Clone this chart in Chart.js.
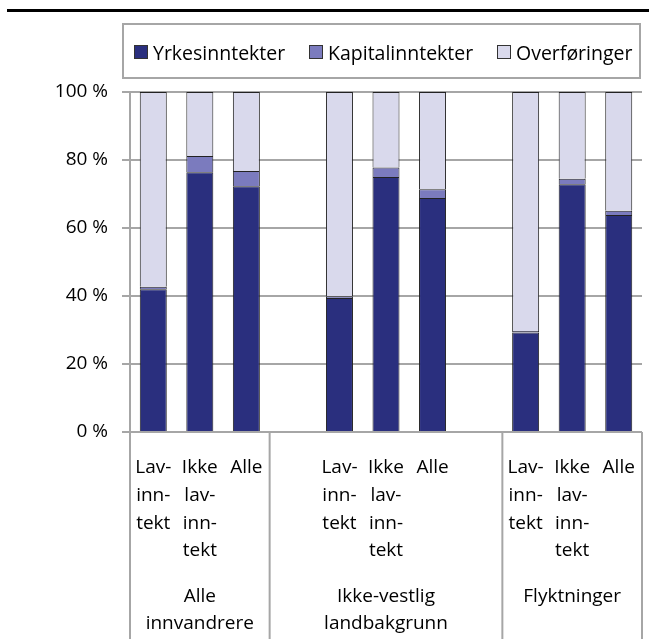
<!DOCTYPE html>
<html><head><meta charset="utf-8">
<script src="https://cdn.jsdelivr.net/npm/chart.js@4/dist/chart.umd.min.js"></script>
<style>
html,body{margin:0;padding:0;background:#fff;}
body{width:649px;height:639px;position:relative;overflow:hidden;font-family:"Open Sans",sans-serif;}
#rule{position:absolute;left:7px;top:9px;width:642px;height:3px;background:#000;}
#legend{position:absolute;left:122px;top:23px;width:515px;height:52px;border:2px solid #a6a6a6;font-size:19.5px;color:#000;}
.item{display:flex;align-items:center;position:absolute;top:1px;height:52px;white-space:nowrap;}
.sw{width:14px;height:14px;border:1px solid #333;margin-right:5px;box-sizing:border-box;}
#c{position:absolute;left:0;top:0;}
</style></head>
<body>
<div id="rule"></div>
<canvas id="c" width="649" height="639"></canvas>
<div id="legend"></div>
<script>
const seriesNames = ["Yrkesinntekter", "Kapitalinntekter", "Overføringer"];
const seriesColors = ["#2a2f7e", "#7b7bbe", "#d9d9ec"];
const categories = [
  ["Lav-","inn-","tekt"], ["Ikke","lav-","inn-","tekt"], ["Alle"], [""],
  ["Lav-","inn-","tekt"], ["Ikke","lav-","inn-","tekt"], ["Alle"], [""],
  ["Lav-","inn-","tekt"], ["Ikke","lav-","inn-","tekt"], ["Alle"]
];
const groups = [["Alle","innvandrere"], ["Ikke-vestlig","landbakgrunn"], ["Flyktninger"]];
const groupSpans = [[0,2],[3,7],[8,10]];
const yrkes    = [42.0, 76.4, 72.3, null, 39.4, 75.0, 68.8, null, 29.3, 72.9, 63.8];
const kapital  = [0.7, 4.8, 4.5, null, 0.5, 2.8, 2.6, null, 0.4, 1.6, 1.3];
const overf    = [57.3, 18.8, 23.2, null, 60.1, 22.2, 28.6, null, 70.3, 25.5, 34.9];
const yTicks = [0, 20, 40, 60, 80, 100];

// HTML legend
const lg = document.getElementById('legend');
const lx = [10, 185, 373];
seriesNames.forEach((n,i)=>{
  const d=document.createElement('div'); d.className='item'; d.style.left=lx[i]+'px';
  const s=document.createElement('span'); s.className='sw'; s.style.background=seriesColors[i];
  const t=document.createElement('span'); t.textContent=n;
  d.appendChild(s); d.appendChild(t); lg.appendChild(d);
});

const FONT = "'Open Sans', sans-serif";
const FS = 19;
const groupPlugin = {
  id:'groups',
  afterDraw(chart){
    const ctx=chart.ctx, x=chart.scales.x, a=chart.chartArea;
    const edge = i => (x.getPixelForValue(i)+x.getPixelForValue(i+1))/2;
    ctx.save();
    ctx.strokeStyle='#a6a6a6'; ctx.lineWidth=2;
    const bounds=[a.left, edge(2), edge(7), a.right];
    bounds.forEach(b=>{ctx.beginPath();ctx.moveTo(b,a.bottom);ctx.lineTo(b,639);ctx.stroke();});
    ctx.fillStyle='#000'; ctx.font=FS+"px "+FONT; ctx.textAlign='center'; ctx.textBaseline='middle';
    groupSpans.forEach((sp,gi)=>{
      const l = sp[0]===0? a.left : edge(sp[0]-1);
      const r = sp[1]===categories.length-1? a.right : edge(sp[1]);
      const cx=(l+r)/2;
      groups[gi].forEach((line,li)=>ctx.fillText(line,cx,597+li*26.5));
    });
    ctx.restore();
  }
};

new Chart(document.getElementById('c'), {
  type:'bar',
  data:{
    labels:categories,
    datasets:[
      {label:seriesNames[0], data:yrkes, backgroundColor:seriesColors[0]},
      {label:seriesNames[1], data:kapital, backgroundColor:seriesColors[1]},
      {label:seriesNames[2], data:overf, backgroundColor:seriesColors[2]}
    ].map(d=>Object.assign(d,{borderColor:'#222',borderWidth:1,categoryPercentage:1,barPercentage:0.58}))
  },
  options:{
    responsive:false, animation:false, devicePixelRatio:1,
    layout:{padding:{top:92,right:7,left:0,bottom:0}},
    plugins:{legend:{display:false}, tooltip:{enabled:false}},
    scales:{
      x:{stacked:true, offset:true,
         grid:{display:false, drawTicks:false},
         border:{display:false},
         ticks:{autoSkip:false,maxRotation:0,minRotation:0,color:'#000',padding:22,
                font:{family:FONT,size:FS,lineHeight:27.7/FS}},
         afterFit(s){s.height=207; s.paddingLeft=0; s.paddingRight=0;}
      },
      y:{stacked:true, min:0, max:100,
         afterBuildTicks(s){s.ticks=yTicks.map(v=>({value:v}));},
         grid:{color:'#a6a6a6',lineWidth:2,tickLength:8,drawTicks:true},
         border:{color:'#a6a6a6',width:2},
         ticks:{color:'#000',padding:14,font:{family:FONT,size:FS},callback:v=>v+' %'},
         afterFit(s){s.width=130; s.paddingTop=0; s.paddingBottom=0;}
      }
    }
  },
  plugins:[groupPlugin]
});
</script>
</body></html>
